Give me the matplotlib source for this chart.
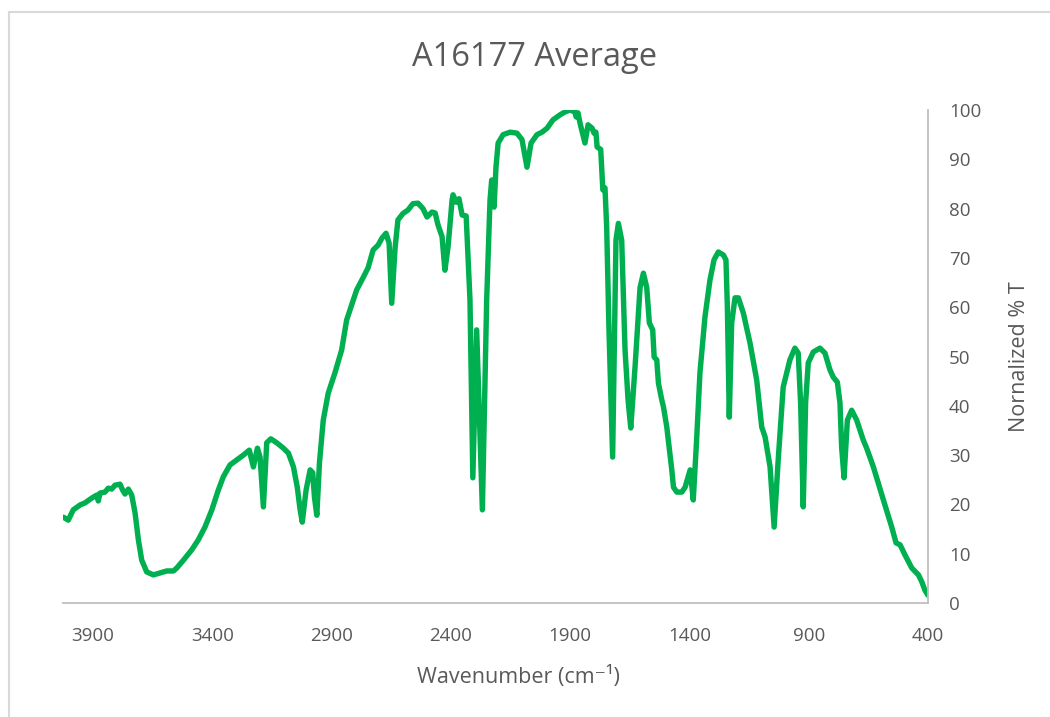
import numpy as np
import matplotlib
matplotlib.use("Agg")
import matplotlib.pyplot as plt
from matplotlib.lines import Line2D

plt.rcParams['font.family'] = ['Open Sans', 'DejaVu Sans']

# FTIR spectrum, high to low wavenumber
wavenumber = [4024, 4004, 3983, 3954, 3934, 3905, 3884, 3878, 3871, 3850,
              3836, 3822, 3808, 3787, 3776, 3766, 3752, 3738, 3724, 3710,
              3696, 3675, 3647, 3619, 3591, 3563, 3549, 3521, 3486, 3459,
              3431, 3402, 3375, 3354, 3326, 3298, 3270, 3245, 3228, 3211,
              3200, 3186, 3172, 3155, 3130, 3102, 3081, 3060, 3044, 3032,
              3023, 3007, 2990, 2979, 2972, 2962, 2951, 2935, 2914, 2886,
              2858, 2837, 2795, 2768, 2747, 2726, 2705, 2689, 2672, 2659,
              2648, 2634, 2622, 2601, 2580, 2559, 2538, 2517, 2500, 2479,
              2466, 2454, 2437, 2425, 2412, 2395, 2391, 2378, 2366, 2353,
              2336, 2320, 2308, 2292, 2268, 2250, 2236, 2229, 2219, 2211,
              2202, 2181, 2152, 2123, 2102, 2081, 2064, 2039, 2018, 1997,
              1972, 1943, 1922, 1901, 1880, 1875, 1867, 1859, 1838, 1825,
              1808, 1800, 1792, 1787, 1772, 1763, 1754, 1747, 1737, 1722,
              1708, 1698, 1684, 1670, 1657, 1646, 1628, 1607, 1593, 1579,
              1568, 1554, 1548, 1537, 1530, 1516, 1509, 1495, 1474, 1467,
              1453, 1432, 1418, 1397, 1384, 1370, 1356, 1335, 1314, 1297,
              1279, 1258, 1247, 1241, 1233, 1223, 1209, 1195, 1174, 1146,
              1118, 1097, 1083, 1062, 1045, 1028, 1007, 979, 958, 944,
              934, 923, 913, 902, 881, 853, 832, 811, 797, 780,
              769, 762, 752, 738, 720, 699, 671, 657, 629, 587,
              552, 534, 517, 496, 468, 440, 426, 413, 400]
transmittance = [17.4, 16.8, 18.9, 19.9, 20.3, 21.3, 21.9, 20.7, 22.3, 22.5,
                 23.3, 23.1, 23.9, 24.1, 22.9, 22.1, 23.1, 21.9, 18.3, 12.8,
                 8.7, 6.3, 5.7, 6.1, 6.5, 6.5, 7.1, 8.7, 10.8, 12.8,
                 15.4, 18.9, 22.9, 25.6, 28.0, 29.0, 30.0, 31.0, 27.6, 31.4,
                 29.6, 19.5, 32.5, 33.3, 32.5, 31.4, 30.4, 27.6, 23.5, 18.9,
                 16.4, 22.9, 27.0, 26.4, 21.5, 17.8, 28.4, 37.1, 42.6, 46.7,
                 51.3, 57.4, 63.5, 66.0, 68.0, 71.6, 72.6, 74.0, 75.0, 73.0,
                 60.8, 72.0, 77.7, 79.0, 79.7, 81.0, 81.1, 80.0, 78.3, 79.3,
                 79.1, 76.7, 74.3, 67.5, 72.2, 81.7, 82.8, 81.3, 82.0, 78.7,
                 78.5, 61.5, 25.4, 55.4, 18.9, 61.5, 81.7, 85.8, 80.3, 88.4,
                 93.3, 95.0, 95.5, 95.3, 94.0, 88.4, 93.3, 95.0, 95.5, 96.3,
                 98.0, 99.0, 99.6, 100.0, 99.6, 98.6, 99.4, 97.4, 93.3, 97.0,
                 96.3, 95.3, 95.5, 92.5, 92.0, 83.8, 84.2, 76.3, 54.8, 29.6,
                 73.6, 77.0, 73.6, 51.3, 41.0, 35.5, 47.9, 64.0, 66.9, 64.0,
                 56.8, 55.4, 49.9, 49.3, 44.6, 41.2, 39.8, 35.7, 27.0, 23.5,
                 22.5, 22.5, 23.5, 27.0, 20.9, 33.0, 46.7, 58.0, 65.5, 69.6,
                 71.2, 70.6, 69.6, 60.0, 37.7, 56.8, 61.9, 61.9, 58.8, 52.7,
                 45.2, 35.7, 33.7, 27.6, 15.4, 29.0, 43.8, 49.3, 51.7, 50.7,
                 40.6, 19.5, 40.6, 48.7, 50.9, 51.7, 50.7, 47.3, 45.8, 44.8,
                 40.6, 31.6, 25.4, 37.1, 39.1, 37.1, 33.0, 31.4, 27.6, 20.9,
                 15.4, 12.2, 11.8, 9.7, 7.1, 5.7, 4.3, 2.6, 1.6]

x_ticks = [3900, 3400, 2900, 2400, 1900, 1400, 900, 400]
y_ticks = [0, 10, 20, 30, 40, 50, 60, 70, 80, 90, 100]

text_col = '#595959'
axis_col = '#BFBFBF'

fig = plt.figure(figsize=(10.5, 7.17), dpi=100)
ax = fig.add_axes([63 / 1050, 1 - 603 / 717, (928 - 63) / 1050, (603 - 110) / 717])

ax.plot(wavenumber, transmittance, color='#00B050', lw=3.9,
        solid_joinstyle='round', solid_capstyle='round')

ax.set_xlim(4026, 400)
ax.set_ylim(0, 100)
ax.set_xticks(x_ticks)
ax.set_yticks(y_ticks)

for side in ['top', 'left']:
    ax.spines[side].set_visible(False)
for side in ['bottom', 'right']:
    ax.spines[side].set_color(axis_col)
    ax.spines[side].set_linewidth(1.3)
ax.yaxis.tick_right()
ax.yaxis.set_label_position('right')
ax.tick_params(length=0, labelsize=13.5, labelcolor=text_col)
ax.tick_params(axis='x', pad=17)
ax.tick_params(axis='y', pad=15)

ax.set_xlabel('Wavenumber (cm\u207b\u00b9)', fontsize=15.5, color=text_col)
ax.xaxis.set_label_coords(0.526, -0.128)
ax.set_ylabel('Nornalized % T', fontsize=15.5, color=text_col, labelpad=20)
fig.text(535 / 1050, 1 - 57 / 717, 'A16177 Average', fontsize=23.5, color=text_col,
         ha='center', va='center')

# chart border (top and left edge visible)
fig.add_artist(Line2D([8.5 / 1050, 8.5 / 1050], [0, 1 - 11.5 / 717],
                      transform=fig.transFigure, color='#D9D9D9', lw=1.5))
fig.add_artist(Line2D([8.5 / 1050, 1], [1 - 11.5 / 717, 1 - 11.5 / 717],
                      transform=fig.transFigure, color='#D9D9D9', lw=1.5))

fig.savefig('out.png', dpi=100)
